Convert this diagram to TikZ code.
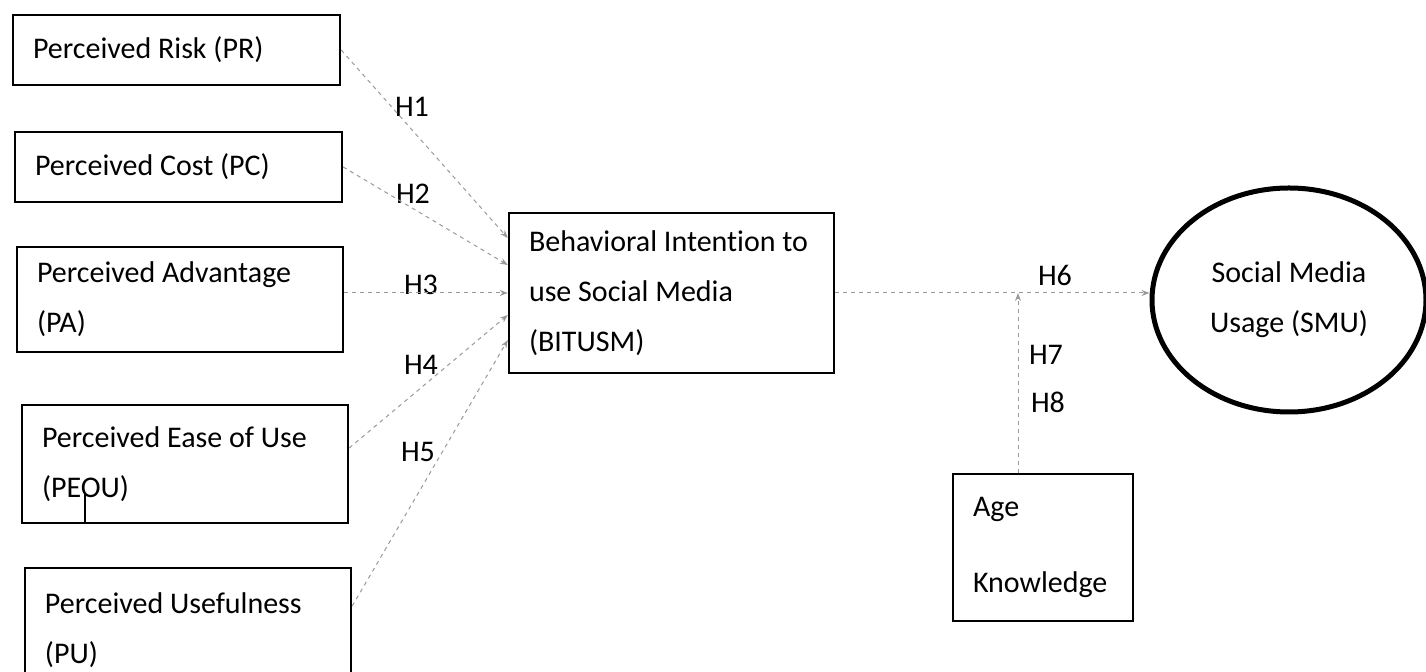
\documentclass[tikz,border=0pt]{standalone}
\usepackage{fontspec}
\setmainfont{Carlito}[Ligatures = CommonOff]
\usetikzlibrary{shapes.geometric,arrows.meta}
\tikzset{
    varbox/.style = {draw, line width = 1.2pt, rectangle, align = flush left,
        inner xsep = 10pt, inner ysep = 0pt, font = \fontsize{15}{25}\selectfont},
    hyp/.style = {draw = gray!80, line width = 0.5pt, dash pattern = on 2pt off 2pt,
        -{Stealth[length = 4pt, width = 3pt]}},
    hlabel/.style = {font = \fontsize{15}{18}\selectfont, inner sep = 1pt}
}
\begin{document}
\begin{tikzpicture}[x = 0.5pt, y = -0.5pt] % 1 unit = 1 pixel of the 1426x672 frame
    \useasboundingbox (0,0) rectangle (1426,672);
    \clip (0,0) rectangle (1426,672);

    % constructs on the left
    \node [varbox, text width = 143.5pt, minimum height = 35pt] (pr) at (176.5,50) {Perceived Risk (PR)};
    \node [varbox, text width = 143.5pt, minimum height = 35pt] (pc) at (178.5,167) {Perceived Cost (PC)};
    \node [varbox, text width = 143pt, minimum height = 52.5pt] (pa) at (180,299.5) {Perceived Advantage\\(PA)};
    \node [varbox, text width = 143pt, minimum height = 59pt] (peou) at (185,464) {Perceived Ease of Use\\(PEOU)};
    \node [varbox, text width = 143pt, minimum height = 62pt] (pu) at (188,630) {Perceived Usefulness\\(PU)};
    \draw [line width = 1.2pt] ([xshift = 32pt]peou.south west) -- ++(0,-31);

    % intention, usage and moderators
    \node [varbox, text width = 142.5pt, minimum height = 80pt] (bitusm) at (671.5,293)
        {Behavioral Intention to\\use Social Media\\(BITUSM)};
    \node [draw, ellipse, line width = 2.5pt, minimum width = 137pt, minimum height = 112pt,
        inner sep = 0pt, align = center, font = \fontsize{15}{25}\selectfont] (smu) at (1289,300)
        {Social Media\\Usage (SMU)};
    \node [varbox, text width = 70pt, minimum height = 73.5pt] (age) at (1043,547.5) {Age\\[13pt]Knowledge};

    % hypotheses
    \foreach \n/\x/\y in {1/412/107, 2/413/194, 3/421/285, 4/421/365, 5/418/452,
                          6/1055/275, 7/1046/355, 8/1048/402} {
        \node [hlabel] (h\n) at (\x,\y) {H\n};
    }
    \draw [hyp] (pr.east) -- ([yshift = 27.5pt]bitusm.west);
    \draw [hyp] (pc.east) -- ([yshift = 14pt]bitusm.west);
    \draw [hyp] (pa.east |- bitusm.west) -- (bitusm.west);
    \draw [hyp] ([yshift = 8pt]peou.east) -- ([yshift = -11pt]bitusm.west);
    \draw [hyp] ([yshift = 12pt]pu.east) -- ([yshift = -23.5pt]bitusm.west);
    \draw [hyp] (bitusm.east) -- (bitusm.east -| smu.west);
    \draw [hyp] ([xshift = -12.5pt]age.north) -- ([xshift = -12.5pt]age.north |- bitusm.east);
\end{tikzpicture}
\end{document}
